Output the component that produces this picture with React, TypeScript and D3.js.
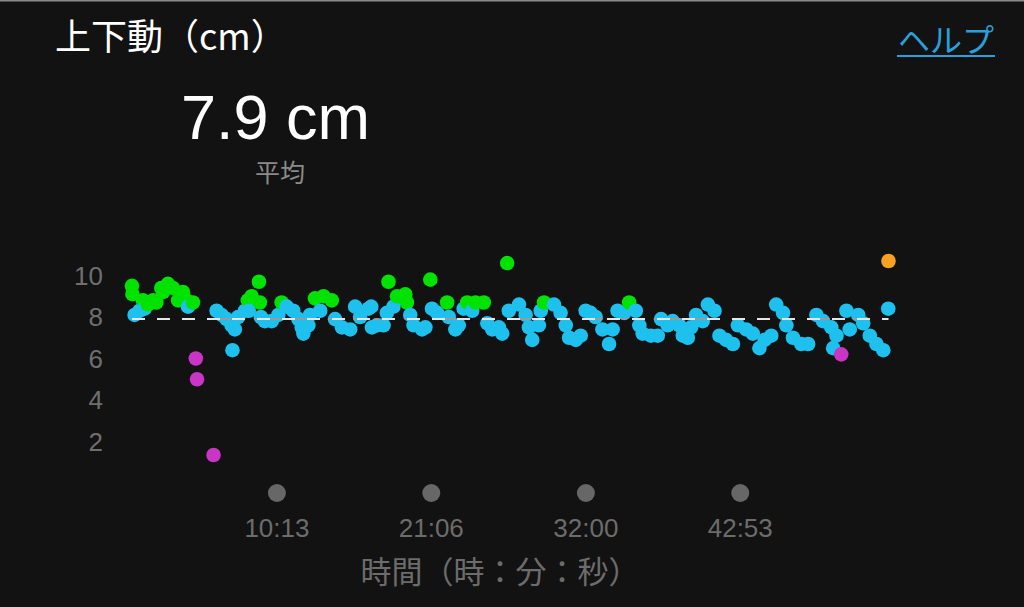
import React from "react";
import * as d3 from "d3";

// Vertical oscillation samples: [elapsed seconds, cm]
const greenPoints: [number, number][] = [
  [0, 9.5], [2, 9.1], [46, 8.8], [67, 8.6], [89, 8.8], [103, 8.7], [124, 9.4], [131, 9.2],
  [152, 9.6], [173, 9.4], [195, 8.8], [216, 9.2], [230, 8.8], [258, 8.7], [490, 8.8],
  [506, 9.0], [537, 9.7], [541, 8.7], [633, 8.7], [774, 8.9], [810, 9.0], [845, 8.8],
  [1085, 9.7], [1121, 9.0], [1156, 9.1], [1163, 8.7], [1262, 9.8], [1333, 8.7], [1418, 8.7],
  [1453, 8.7], [1488, 8.7], [1587, 10.6], [1743, 8.7], [2103, 8.7],
];
const bluePoints: [number, number][] = [
  [11, 8.1], [32, 8.3], [53, 8.4], [237, 8.5], [358, 8.3], [379, 8.1], [400, 7.9], [421, 7.6],
  [425, 6.4], [435, 7.4], [449, 8.0], [478, 8.3], [494, 8.3], [545, 8.0], [562, 7.8], [591, 7.8],
  [619, 8.1], [654, 8.5], [682, 8.3], [704, 7.9], [718, 7.5], [725, 7.2], [746, 7.6], [753, 8.1],
  [796, 8.3], [859, 7.9], [888, 7.5], [923, 7.4], [944, 8.5], [965, 8.0], [1000, 8.4], [1012, 8.5],
  [1015, 7.5], [1036, 7.6], [1064, 7.6], [1078, 8.2], [1106, 8.5], [1177, 8.1], [1191, 7.6],
  [1227, 7.4], [1241, 7.5], [1269, 8.4], [1291, 8.2], [1340, 8.0], [1368, 7.4], [1382, 7.6],
  [1403, 8.4], [1439, 8.3], [1503, 7.7], [1524, 7.4], [1552, 7.5], [1566, 7.2], [1594, 8.3],
  [1637, 8.6], [1665, 8.1], [1679, 7.5], [1693, 6.9], [1721, 7.6], [1729, 8.3], [1785, 8.6],
  [1813, 8.2], [1835, 7.6], [1849, 7.0], [1877, 6.9], [1898, 7.1], [1919, 8.3], [1940, 8.2],
  [1961, 8.0], [1990, 7.4], [2018, 6.7], [2033, 7.4], [2054, 8.3], [2082, 8.2], [2131, 8.3],
  [2146, 7.6], [2160, 7.2], [2195, 7.1], [2224, 7.1], [2238, 7.9], [2266, 7.6], [2287, 7.8],
  [2315, 7.6], [2330, 7.1], [2351, 7.0], [2365, 7.5], [2386, 8.1], [2414, 7.8], [2436, 8.6],
  [2464, 8.3], [2485, 7.1], [2513, 6.9], [2542, 6.7], [2563, 7.6], [2598, 7.4], [2626, 7.2],
  [2654, 6.5], [2676, 6.9], [2704, 7.1], [2725, 8.6], [2754, 8.2], [2768, 7.6], [2796, 7.0],
  [2831, 6.7], [2860, 6.7], [2895, 8.1], [2923, 7.8], [2958, 7.5], [2966, 6.5], [2980, 7.1],
  [3022, 8.3], [3036, 7.4], [3072, 8.1], [3093, 7.7], [3121, 7.1], [3149, 6.7], [3178, 6.4],
  [3199, 8.4],
];
const purplePoints: [number, number][] = [[270, 6.0], [275, 5.0], [345, 1.35], [3000, 6.2]];
const orangePoints: [number, number][] = [[3200, 10.7]];

const yTicks = [2, 4, 6, 8, 10];
const xTickSeconds = [613, 1266, 1920, 2573];
const xTickLabels = ["10:13", "21:06", "32:00", "42:53"];
const averageValue = 7.9;
const totalSeconds = 3200;

const COLORS: Record<string, string> = {
  green: "#00e200",
  blue: "#1ec0ee",
  purple: "#c935c4",
  orange: "#f7a123",
};

const NUM_FONT = "'Liberation Sans', 'DejaVu Sans', sans-serif";
const JP_FONT = "'Noto Sans CJK JP', 'Noto Sans', sans-serif";

export default function App() {
  const W = 1024;
  const H = 607;
  const x = d3.scaleLinear().domain([0, totalSeconds]).range([132, 888.5]);
  const y = d3.scaleLinear().domain([0, 10]).range([483, 275.5]);
  const R = 7.3;

  const all = [
    ...greenPoints.map((p) => ({ t: p[0], v: p[1], z: "green" })),
    ...bluePoints.map((p) => ({ t: p[0], v: p[1], z: "blue" })),
    ...purplePoints.map((p) => ({ t: p[0], v: p[1], z: "purple" })),
    ...orangePoints.map((p) => ({ t: p[0], v: p[1], z: "orange" })),
  ].sort((a, b) => a.t - b.t);

  const avgY = y(averageValue);
  const x0 = x(0);
  const x1 = x(totalSeconds);

  return (
    <svg
      width={W}
      height={H}
      style={{ position: "fixed", left: 0, top: 0, display: "block" }}
      xmlns="http://www.w3.org/2000/svg"
    >
      <defs>
        <clipPath id="dotsClip">
          {all.map((d, i) => (
            <circle key={i} cx={x(d.t)} cy={y(d.v)} r={R} />
          ))}
        </clipPath>
      </defs>
      <rect x={0} y={0} width={W} height={H} fill="#121212" />
      <rect x={0} y={0} width={W} height={1.5} fill="#8a8a8a" />

      {/* header */}
      <text x={55} y={50} fill="#ffffff" fontFamily={JP_FONT} fontSize={36}>
        上下動（cm）
      </text>
      <text x={181} y={139} fill="#ffffff" fontFamily={NUM_FONT} fontSize={63}>
        7.9 cm
      </text>
      <text x={280} y={182} fill="#8a8a8a" fontFamily={JP_FONT} fontSize={25} textAnchor="middle">
        平均
      </text>
      <text x={946} y={52} fill="#2b9fd9" fontFamily={JP_FONT} fontSize={32} textAnchor="middle">
        ヘルプ
      </text>
      <rect x={897} y={55} width={98} height={2} fill="#2b9fd9" />

      {/* y axis labels */}
      {yTicks.map((t) => (
        <text
          key={t}
          x={103}
          y={y(t) + 9}
          fill="#6f6f6f"
          fontFamily={NUM_FONT}
          fontSize={26}
          textAnchor="end"
        >
          {t}
        </text>
      ))}

      {/* points */}
      {all.map((d, i) => (
        <circle key={i} cx={x(d.t)} cy={y(d.v)} r={R} fill={COLORS[d.z]} />
      ))}

      {/* average line */}
      <line
        x1={x0}
        x2={x1}
        y1={avgY}
        y2={avgY}
        stroke="#9a9a9a"
        strokeWidth={2}
        strokeDasharray="12,13"
        strokeDashoffset={-12}
        clipPath="url(#dotsClip)"
      />
      <line
        x1={x0}
        x2={x1}
        y1={avgY}
        y2={avgY}
        stroke="#e6e6e6"
        strokeWidth={2}
        strokeDasharray="13,12"
      />

      {/* x axis */}
      {xTickSeconds.map((s, i) => (
        <g key={s}>
          <circle cx={x(s)} cy={493} r={9} fill="#676767" />
          <text
            x={x(s)}
            y={537}
            fill="#6c6c6c"
            fontFamily={NUM_FONT}
            fontSize={26}
            textAnchor="middle"
          >
            {xTickLabels[i]}
          </text>
        </g>
      ))}
      <text x={500} y={583} fill="#6c6c6c" fontFamily={JP_FONT} fontSize={31} textAnchor="middle">
        時間（時：分：秒）
      </text>
    </svg>
  );
}
